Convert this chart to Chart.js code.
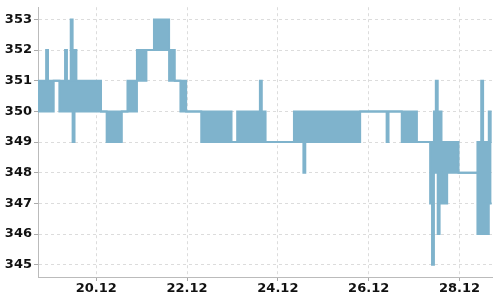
<!DOCTYPE html>
<html><head><meta charset="utf-8">
<script src="https://cdn.jsdelivr.net/npm/chart.js@4"></script>
<style>html,body{margin:0;padding:0;background:#fff}#wrap{width:500px;height:300px;position:relative}</style>
</head><body><div id="wrap"><canvas id="c"></canvas></div>
<script>
// hourly high / low readings, first sample at hour 17 (hours counted from 18.12 00:00)
const startHour = 17;
const highValues = [
  351,351,351,351,351,352,351,351,351,351,
  351,351,351,351,351,352,351,351,353,351,
  352,351,351,351,351,351,351,351,351,351,
  351,351,351,351,350,350,350,350,350,350,
  350,350,350,350,350,350,350,350,351,351,
  351,351,351,352,352,352,352,352,352,352,
  352,352,353,353,353,353,353,353,353,353,
  352,352,352,351,351,351,351,351,351,350,
  350,350,350,350,350,350,350,350,350,350,
  350,350,350,350,350,350,350,350,350,350,
  350,350,350,349,349,349,350,350,350,350,
  350,350,350,350,350,350,350,350,351,350,
  350,349,349,349,349,349,349,349,349,349,
  349,349,349,349,349,349,350,350,350,350,
  350,350,350,350,350,350,350,350,350,350,
  350,350,350,350,350,350,350,350,350,350,
  350,350,350,350,350,350,350,350,350,350,
  350,350,350,350,350,350,350,350,350,350,
  350,350,350,350,350,350,350,350,350,350,
  350,350,350,350,350,350,350,350,350,350,
  350,349,349,349,349,349,349,349,349,349,
  350,351,350,350,349,349,349,349,349,349,
  349,349,349,348,348,348,348,348,348,348,
  348,348,348,349,349,351,349,349,349,350,
  349
];
const lowValues = [
  350,350,350,350,350,350,350,350,350,351,
  351,351,350,350,350,350,350,350,350,349,
  350,350,350,350,350,350,350,350,350,350,
  350,350,350,350,350,350,350,349,349,349,
  349,349,349,349,349,350,350,350,350,350,
  350,350,350,351,351,351,351,351,352,352,
  352,352,352,352,352,352,352,352,352,352,
  351,351,351,351,351,351,350,350,350,350,
  350,350,350,350,350,350,350,349,349,349,
  349,349,349,349,349,349,349,349,349,349,
  349,349,349,349,349,349,349,349,349,349,
  349,349,349,349,349,349,349,349,349,349,
  349,349,349,349,349,349,349,349,349,349,
  349,349,349,349,349,349,349,349,349,349,
  349,348,349,349,349,349,349,349,349,349,
  349,349,349,349,349,349,349,349,349,349,
  349,349,349,349,349,349,349,349,349,349,
  349,350,350,350,350,350,350,350,350,350,
  350,350,350,350,350,349,350,350,350,350,
  350,350,350,349,349,349,349,349,349,349,
  349,349,349,349,349,349,349,349,347,345,
  348,348,346,347,347,348,347,348,348,348,
  348,348,348,348,348,348,348,348,348,348,
  348,348,348,346,346,346,346,347,346,347,
  347
];
const xTickHours = [48, 96, 144, 192, 240];
const xTickLabels = ['20.12', '22.12', '24.12', '26.12', '28.12'];
const yTickValues = [345, 346, 347, 348, 349, 350, 351, 352, 353];
const xMin = 17.2, xMax = 257.2;
const yMin = 344.6, yMax = 353.4;

const lineColor = 'rgb(127,179,204)';
const highPoints = highValues.map((v, i) => ({x: startHour + i, y: v}));
const lowPoints = lowValues.map((v, i) => ({x: startHour + i, y: v}));
const tickFont = {family: 'DejaVu Sans', size: 13, weight: 'bold', lineHeight: 0.8};

new Chart(document.getElementById('c'), {
  type: 'line',
  data: {datasets: [
    {data: highPoints, borderColor: lineColor, backgroundColor: lineColor, borderWidth: 2,
     pointRadius: 0, stepped: 'middle', fill: false},
    {data: lowPoints, borderColor: lineColor, backgroundColor: lineColor, borderWidth: 2,
     pointRadius: 0, stepped: 'middle', fill: '-1'}
  ]},
  options: {
    responsive: true,
    maintainAspectRatio: false,
    animation: false,
    layout: {padding: {left: 0, right: 8, top: 0, bottom: 0}},
    plugins: {legend: {display: false}, tooltip: {enabled: false}},
    scales: {
      x: {
        type: 'linear', min: xMin, max: xMax,
        afterBuildTicks: (s) => { s.ticks = xTickHours.map(v => ({value: v})); },
        afterFit: (s) => { s.height = 23; },
        ticks: {
          callback: (v) => xTickLabels[xTickHours.indexOf(v)],
          font: tickFont, color: '#111', padding: 2, maxRotation: 0, autoSkip: false
        },
        grid: {color: '#dcdcdc', tickColor: '#aaa', tickLength: 4},
        border: {color: '#bbb', dash: [3, 3]}
      },
      y: {
        type: 'linear', min: yMin, max: yMax,
        afterBuildTicks: (s) => { s.ticks = yTickValues.map(v => ({value: v})); },
        afterFit: (s) => { s.width = 38; },
        ticks: {font: tickFont, color: '#111', padding: 2},
        grid: {color: '#dcdcdc', tickColor: '#aaa', tickLength: 4},
        border: {color: '#bbb', dash: [3, 3]}
      }
    }
  }
});
</script></body></html>
